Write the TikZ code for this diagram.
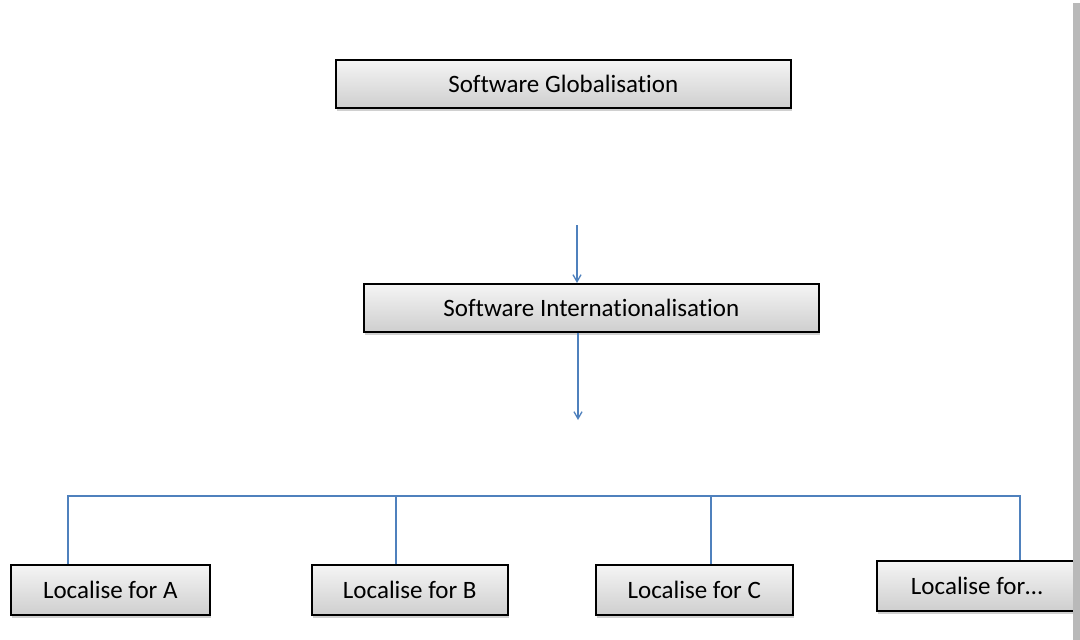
\documentclass[tikz,border=0pt]{standalone}
\usepackage{fontspec}
\setmainfont{Carlito}[Ligatures=NoCommon]
\usetikzlibrary{arrows.meta,shadows}
\definecolor{lineblue}{HTML}{4F81BD}
\tikzset{
  box/.style={draw=black, line width=1.6pt, top color=gray!8, bottom color=gray!38,
    minimum height=48pt, inner sep=0pt, font=\fontsize{25}{28}\selectfont,
    drop shadow={shadow xshift=1pt, shadow yshift=-3pt, fill=gray!60, opacity=0.6}},
  conn/.style={draw=lineblue, line width=1.3pt},
  arr/.style={conn, -{Straight Barb[length=7pt,width=8pt]}}
}
\begin{document}
\begin{tikzpicture}[x=1pt,y=-1pt]
\useasboundingbox (0,0) rectangle (1080,640);
\fill[white] (0,0) rectangle (1080,640);
\node[box, minimum width=455pt, anchor=north west] (glob) at (335,59) {Software Globalisation};
\node[box, minimum width=455pt, anchor=north west] (intl) at (363,283) {Software Internationalisation};
\node[box, minimum width=199pt, minimum height=50pt, anchor=north west] (la) at (10,564) {Localise for A};
\node[box, minimum width=196pt, minimum height=50pt, anchor=north west] (lb) at (311,564) {Localise for B};
\node[box, minimum width=197pt, minimum height=50pt, anchor=north west] (lc) at (595,564) {Localise for C};
\node[box, minimum width=200pt, minimum height=50pt, anchor=north west] (ld) at (876,560) {Localise for…};
\coordinate (a1s) at (577,225);
\coordinate (a2e) at (578,420);
\draw[arr] (a1s) -- (intl.north -| a1s);
\draw[arr] (intl.south -| a2e) -- (a2e);
\coordinate (hl) at (68,496);
\coordinate (hr) at (1020,496);
\draw[conn] (la.north -| hl) -- (hl) -- (hr) -- (ld.north -| hr);
\draw[conn] (lb.north -| 396,0) -- (396,496);
\draw[conn] (lc.north -| 711,0) -- (711,496);
\fill[gray!55] (1073,3) rectangle (1080,640);
\end{tikzpicture}
\end{document}
